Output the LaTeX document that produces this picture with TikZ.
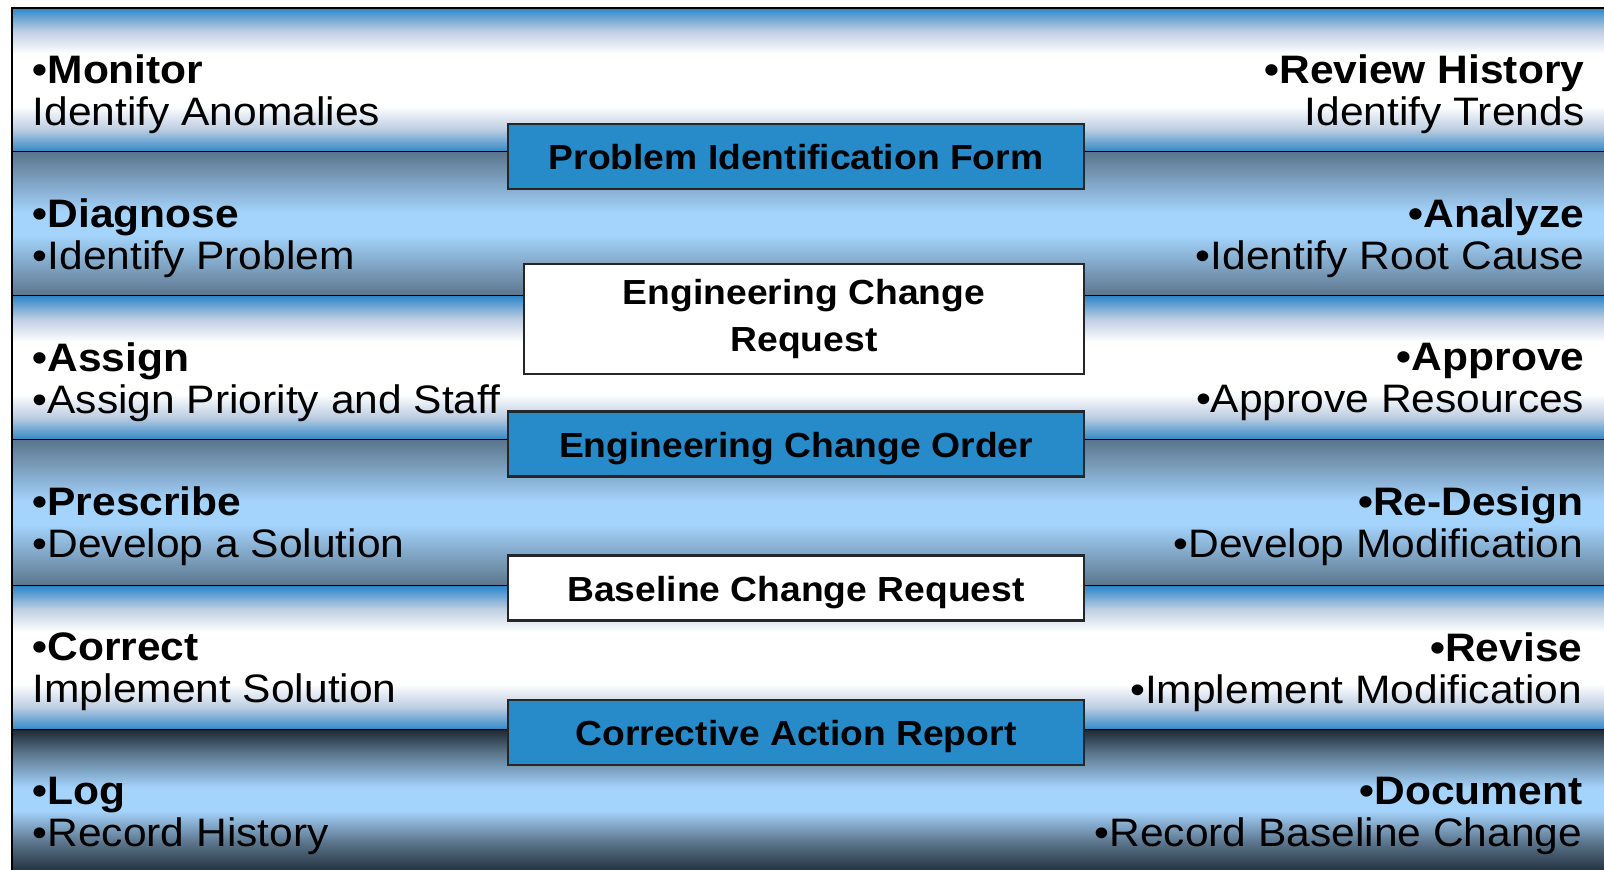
\documentclass[tikz,border=0pt]{standalone}
\usepackage{fontspec}
\setmainfont{Liberation Sans}[FakeStretch=1.07]
\usepackage{xcolor}

\definecolor{edgeblue}{RGB}{46,134,200}
\definecolor{mistblue}{RGB}{190,206,226}
\definecolor{steelgrey}{RGB}{91,117,140}
\definecolor{skyblue}{RGB}{164,211,251}
\definecolor{nightblue}{RGB}{30,42,54}
\definecolor{boxblue}{RGB}{38,139,200}

% band shadings, the path covers 25bp..75bp
\pgfdeclareverticalshading{lightband}{100bp}{color(0bp)=(edgeblue); color(25bp)=(edgeblue); color(33bp)=(mistblue); color(41bp)=(white); color(59bp)=(white); color(67bp)=(mistblue); color(75bp)=(edgeblue); color(100bp)=(edgeblue)}
\pgfdeclareverticalshading{darkband}{100bp}{color(0bp)=(steelgrey); color(25bp)=(steelgrey); color(46bp)=(skyblue); color(54bp)=(skyblue); color(75bp)=(steelgrey); color(100bp)=(steelgrey)}
\pgfdeclareverticalshading{lastband}{100bp}{color(0bp)=(nightblue); color(25bp)=(nightblue); color(36bp)=(steelgrey); color(47bp)=(skyblue); color(55bp)=(skyblue); color(67bp)=(steelgrey); color(75bp)=(nightblue); color(100bp)=(nightblue)}

\newcommand{\stripe}[3] % top y, bottom y, shading
{
	% shaded band
	\shade[shading=#3] (12,#1) rectangle (1604,#2);
	% divider under it
	\draw[divider] (12,#2) -- (1604,#2);
}

\tikzset{
	divider/.style={line width=0.7pt, black},
	formbox/.style={draw=black!85, line width=0.6pt, minimum width=5.76cm, minimum height=0.65cm,
		inner sep=0pt, align=center, font=\fontsize{9.9}{13.1}\selectfont\bfseries},
	oneline/.style={text height=2.6mm, text depth=0pt},
	blueform/.style={formbox, oneline, fill=boxblue},
	whiteform/.style={formbox, fill=white},
	lefttext/.style={anchor=west, align=left, inner sep=0pt, font=\fontsize{11.3}{11.95}\selectfont},
	righttext/.style={anchor=east, align=right, inner sep=0pt, font=\fontsize{11.3}{11.95}\selectfont}
}

\begin{document}
\begin{tikzpicture}[x=0.01cm, y=-0.01cm]
	% 1604px x 869px, 1px = 0.1mm, y runs down
	\clip (0,0) rectangle (1604,869);
	\stripe{8}{152}{lightband};
	\stripe{152}{296}{darkband};
	\stripe{296}{440}{lightband};
	\stripe{440}{586}{darkband};
	\stripe{586}{730}{lightband};
	\stripe{730}{874}{lastband};
	% outer border
	\draw[divider] (12,874) -- (12,8) -- (1604,8);

	% forms in the middle
	\node[blueform] (pif) at (796,156.5) {Problem Identification Form};
	\node[whiteform, minimum width=5.60cm, minimum height=1.10cm] (ecr) at (804,319) {Engineering Change\\Request};
	\node[blueform] (eco) at (796,444) {Engineering Change Order};
	\node[whiteform, oneline] (bcr) at (796,588) {Baseline Change Request};
	\node[blueform] (car) at (796,732.5) {Corrective Action Report};

	% left column
	\node[lefttext] (monitor) at (32,94) {\textbf{•Monitor}\\Identify Anomalies};
	\node[lefttext] (diagnose) at (32,238) {\textbf{•Diagnose}\\•Identify Problem};
	\node[lefttext] (assign) at (32,382) {\textbf{•Assign}\\•Assign Priority and Staff};
	\node[lefttext] (prescribe) at (32,526) {\textbf{•Prescribe}\\•Develop a Solution};
	\node[lefttext] (correct) at (32,672) {\textbf{•Correct}\\Implement Solution};
	\node[lefttext] (logging) at (32,816) {\textbf{•Log}\\•Record History};

	% right column
	\node[righttext] (review) at (1585,94) {\textbf{•Review History}\\Identify Trends};
	\node[righttext] (analyze) at (1585,238) {\textbf{•Analyze}\\•Identify Root Cause};
	\node[righttext] (approve) at (1585,382) {\textbf{•Approve}\\•Approve Resources};
	\node[righttext] (redesign) at (1584,526) {\textbf{•Re-Design}\\•Develop Modification};
	\node[righttext] (revise) at (1583,672) {\textbf{•Revise}\\•Implement Modification};
	\node[righttext] (document) at (1583,816) {\textbf{•Document}\\•Record Baseline Change};
\end{tikzpicture}
\end{document}
